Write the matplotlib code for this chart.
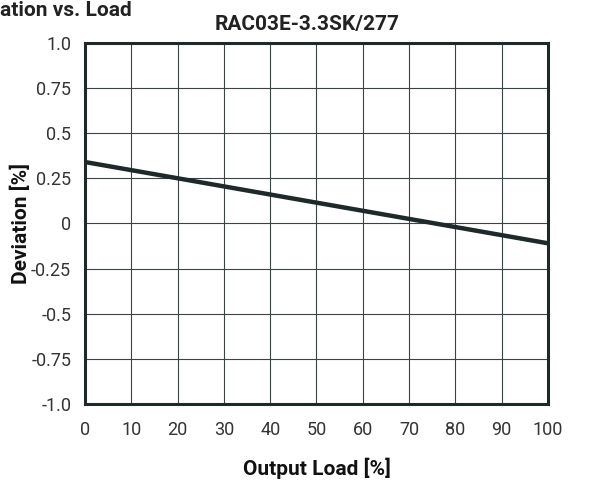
import matplotlib.pyplot as plt
from matplotlib import font_manager

# condensed font if there is one, otherwise Roboto
names = {f.name for f in font_manager.fontManager.ttflist}
fam = 'Liberation Sans Narrow' if 'Liberation Sans Narrow' in names else 'Roboto'
plt.rcParams['font.family'] = [fam, 'DejaVu Sans']

load = [0, 100]
deviation = [0.34, -0.11]
xticks = [0, 10, 20, 30, 40, 50, 60, 70, 80, 90, 100]
yticks = [-1.0, -0.75, -0.5, -0.25, 0, 0.25, 0.5, 0.75, 1.0]
ylabels = ['-1.0', '-0.75', '-0.5', '-0.25', '0', '0.25', '0.5', '0.75', '1.0']

dark = '#1e2a2a'

fig = plt.figure(figsize=(6.08, 4.82), dpi=100)
ax = fig.add_axes([0.140, 0.162, 0.761, 0.749])

ax.plot(load, deviation, color=dark, lw=3.2, solid_capstyle='butt', zorder=3)

ax.set_xlim(0, 100)
ax.set_ylim(-1, 1)
ax.set_xticks(xticks)
ax.set_yticks(yticks)
ax.set_yticklabels(ylabels)
ax.grid(True, color='#3a4444', lw=0.8)
ax.tick_params(length=0, labelsize=13, colors='#333333')
ax.tick_params(axis='x', pad=12)
ax.tick_params(axis='y', pad=10)
for s in ax.spines.values():
    s.set_linewidth(2.2)
    s.set_color(dark)

ax.set_xlabel('Output Load [%]', fontsize=15, fontweight='bold', color='#111111', labelpad=14)
ax.set_ylabel('Deviation [%]', fontsize=15, fontweight='bold', color='#111111', labelpad=0)
ax.set_title('RAC03E-3.3SK/277', fontsize=15, fontweight='bold', color='#222222', pad=9, x=0.48)
fig.text(0.0, 0.998, 'ation vs. Load', fontsize=15, fontweight='bold',
         color='#222222', ha='left', va='top')

fig.savefig('out.png', dpi=100)
